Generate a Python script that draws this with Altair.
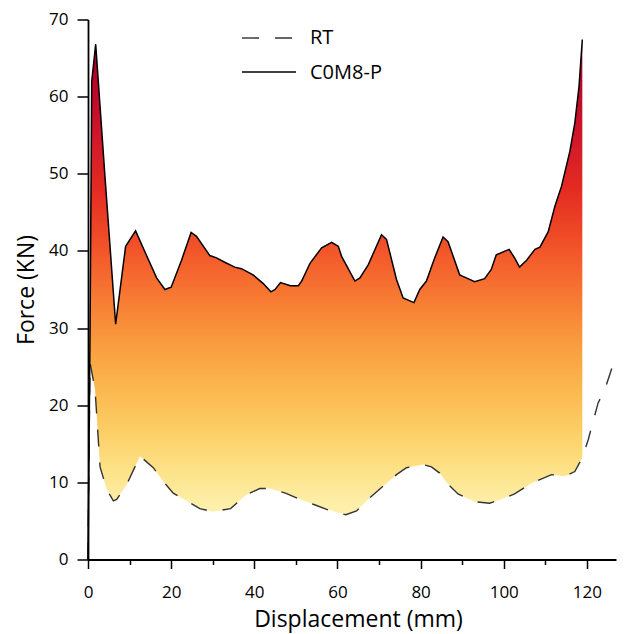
import altair as alt
import pandas as pd

# C0M8-P (upper, solid) force-displacement curve
upper_x = [0, 0.5, 0.9, 1.85, 4.1, 6.65, 9.05, 11.45, 14.0, 16.5, 18.5, 20.0, 22.5, 24.8, 26.1,
           29.3, 30.9, 33.0, 35.3, 36.9, 39.7, 42.1, 44.0, 45.0, 46.3, 48.7, 50.6, 51.4, 53.4,
           56.2, 58.6, 60.2, 61.0, 64.2, 65.4, 67.4, 70.6, 71.8, 74.2, 75.8, 78.4, 79.8, 81.4,
           83.4, 85.4, 86.6, 89.4, 90.6, 93.0, 95.4, 97.0, 98.2, 101.3, 102.6, 103.8, 105.5,
           107.5, 108.7, 110.7, 112.3, 113.9, 115.9, 117.1, 118.1, 118.9]
upper_y = [0, 30.0, 62.0, 66.8, 49.5, 30.5, 40.6, 42.6, 39.5, 36.5, 35.0, 35.3, 38.8, 42.4, 41.9,
           39.4, 39.1, 38.5, 37.9, 37.7, 36.9, 35.8, 34.7, 35.0, 35.9, 35.5, 35.5, 36.1, 38.4,
           40.4, 41.1, 40.6, 39.3, 36.1, 36.5, 38.2, 42.1, 41.5, 36.3, 33.9, 33.3, 35.0, 36.1,
           39.1, 41.8, 41.2, 36.9, 36.6, 36.0, 36.4, 37.6, 39.5, 40.2, 39.1, 37.9, 38.8,
           40.2, 40.5, 42.5, 45.8, 48.4, 52.9, 56.6, 61.3, 67.4]

# RT (lower, dashed) force-displacement curve
rt_x = [0, 0.2, 0.5, 1.7, 2.9, 4.5, 6.1, 6.9, 9.3, 12.5, 15.7, 18.0, 20.5, 23.7, 26.9, 30.1,
        34.3, 38.1, 41.3, 43.8, 47.5, 51.0, 54.5, 57.4, 60.0, 62.0, 64.6, 67.8, 71.4, 74.2,
        76.6, 80.6, 82.6, 84.6, 86.2, 89.0, 93.0, 96.6, 99.4, 102.6, 106.7, 111.5, 114.7,
        117.1, 118.9, 120.3, 122.7, 124.3, 126.3]
rt_y = [0, 12.0, 25.5, 22.0, 12.0, 9.1, 7.6, 7.8, 9.7, 13.4, 11.9, 10.2, 8.6, 7.6, 6.6, 6.2,
        6.6, 8.4, 9.2, 9.2, 8.6, 7.8, 7.1, 6.5, 6.1, 5.8, 6.3, 8.0, 9.7, 11.0,
        11.9, 12.3, 12.0, 11.2, 10.0, 8.5, 7.5, 7.3, 7.8, 8.5, 9.9, 11.0, 10.8,
        11.4, 13.2, 15.5, 20.3, 22.0, 25.3]

legend_labels = ["RT", "C0M8-P"]

x_ticks = list(range(0, 121, 10))
y_ticks = list(range(0, 71, 5))

upper_df = pd.DataFrame({"x": upper_x, "y": upper_y})
rt_df = pd.DataFrame({"x": rt_x, "y": rt_y})

FONT = "Open Sans"
top_val = max(upper_y)
color_levels = [(67.4, "#a3002a"), (62, "#b8062a"), (55, "#d0162a"), (48, "#e32b22"),
                (42, "#ef4a27"), (38, "#f5622d"), (33, "#f87f35"), (28, "#f99c3f"),
                (22, "#fbb84f"), (16, "#fdd169"), (11, "#fde48c"), (7, "#feefaa"),
                (0, "#fff6c0")]
stops = [alt.GradientStop(color=c, offset=max(0.0, min(1.0, (top_val - v) / top_val)))
         for v, c in color_levels]
grad = alt.Gradient(gradient="linear", stops=stops, x1=0, x2=0, y1=0, y2=1)

xscale = alt.Scale(domain=[0, 127], nice=False, zero=False)
yscale = alt.Scale(domain=[0, 70], nice=False)

xaxis = alt.Axis(values=x_ticks, title="Displacement (mm)", grid=False,
                 labelExpr="datum.value % 20 === 0 ? datum.label : ''",
                 tickSize={"expr": "datum.value % 20 === 0 ? 9 : 5"},
                 labelFont=FONT, labelFontSize=17, labelColor="black", labelPadding=16,
                 titleFont=FONT, titleFontSize=23, titleFontWeight="normal", titleColor="black",
                 titlePadding=8, titleX=270, domainColor="black", domainWidth=1.8,
                 tickColor="black", tickWidth=1.5, labelFlush=False, labelOverlap=False, zindex=1)
yaxis = alt.Axis(values=y_ticks, title="Force (KN)", grid=False,
                 labelExpr="datum.value % 10 === 0 ? datum.label : ''",
                 tickSize={"expr": "datum.value % 10 === 0 ? 11 : 5"},
                 labelFont=FONT, labelFontSize=17, labelColor="black", labelPadding=9,
                 titleFont=FONT, titleFontSize=23, titleFontWeight="normal", titleColor="black",
                 titlePadding=10, domainColor="black", domainWidth=1.8, tickColor="black",
                 tickWidth=1.5, labelFlush=False, labelOverlap=False, zindex=1)

fill_upper = alt.Chart(upper_df).mark_area(fill=grad, line=False).encode(
    x=alt.X("x:Q", scale=xscale, axis=xaxis),
    y=alt.Y("y:Q", scale=yscale, axis=yaxis),
)
mask_lower = alt.Chart(rt_df).mark_area(color="white", opacity=1).encode(
    x=alt.X("x:Q", scale=xscale),
    y=alt.Y("y:Q", scale=yscale),
)
rt_line = alt.Chart(rt_df).mark_line(color="#333333", strokeWidth=1.4, strokeDash=[17, 16]).encode(
    x=alt.X("x:Q", scale=xscale),
    y=alt.Y("y:Q", scale=yscale),
)
upper_line = alt.Chart(upper_df).mark_line(color="black", strokeWidth=1.5).encode(
    x=alt.X("x:Q", scale=xscale),
    y=alt.Y("y:Q", scale=yscale),
)

leg0 = pd.DataFrame({"label": [legend_labels[0]]})
leg1 = pd.DataFrame({"label": [legend_labels[1]]})
leg_rule0 = alt.Chart(leg0).mark_rule(color="#333333", strokeWidth=1.4, strokeDash=[17, 16]).encode(
    x=alt.value(154), x2=alt.value(208), y=alt.value(18.5))
leg_rule1 = alt.Chart(leg1).mark_rule(color="black", strokeWidth=1.5).encode(
    x=alt.value(154), x2=alt.value(208), y=alt.value(52.5))
leg_text0 = alt.Chart(leg0).mark_text(align="left", baseline="middle", font=FONT, fontSize=20,
                                      color="black").encode(
    x=alt.value(222), y=alt.value(18.5), text="label:N")
leg_text1 = alt.Chart(leg1).mark_text(align="left", baseline="middle", font=FONT, fontSize=20,
                                      color="black").encode(
    x=alt.value(222), y=alt.value(53.5), text="label:N")

chart = alt.layer(
    fill_upper, mask_lower, rt_line, upper_line, leg_rule0, leg_rule1, leg_text0, leg_text1
).properties(
    width=528, height=540,
    padding={"left": 80, "top": 11.5, "right": 4, "bottom": 74},
    autosize=alt.AutoSizeParams(type="none"),
).configure_view(stroke=None)

chart.save("out.html", embed_options={"renderer": "svg", "actions": False})
